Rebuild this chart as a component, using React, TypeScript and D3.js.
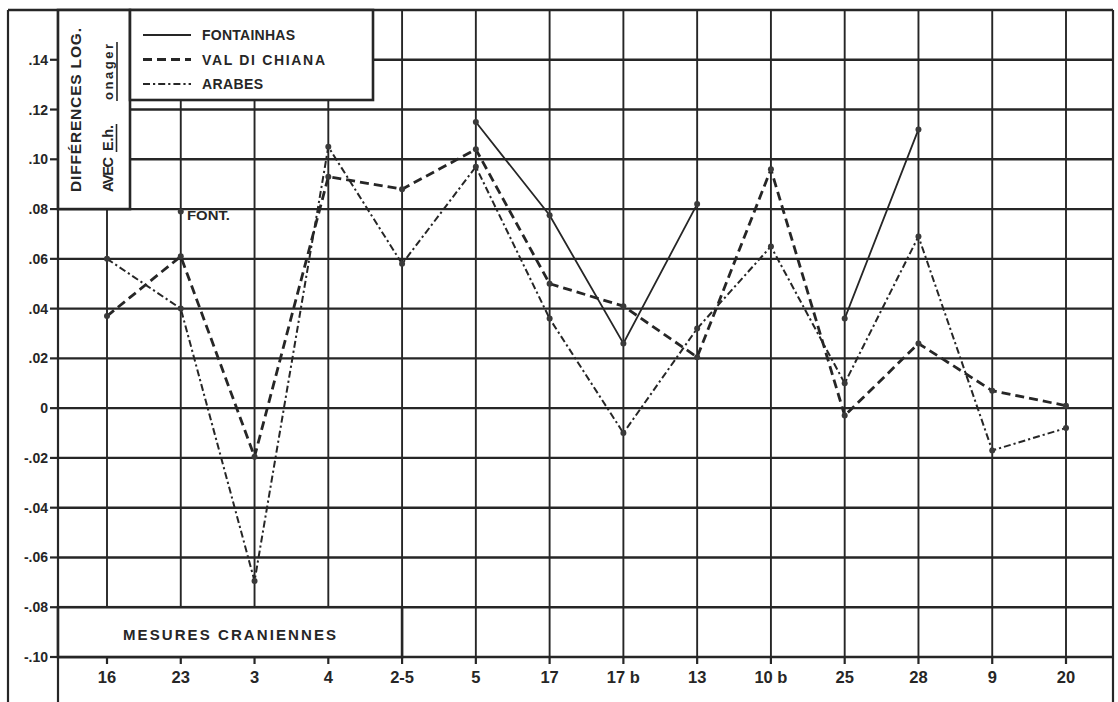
import React from "react";
import * as d3 from "d3";

const categories = ["16", "23", "3", "4", "2-5", "5", "17", "17 b", "13", "10 b", "25", "28", "9", "20"];
const fontainhas: (number | null)[] = [null, 0.079, null, null, null, 0.115, 0.0775, 0.026, 0.082, null, 0.036, 0.112, null, null];
const valDiChiana: (number | null)[] = [0.037, 0.061, -0.0195, 0.093, 0.088, 0.104, 0.050, 0.041, 0.0205, 0.096, -0.003, 0.026, 0.007, 0.001];
const arabes: (number | null)[] = [0.060, 0.040, -0.0695, 0.105, 0.058, 0.097, 0.036, -0.010, 0.032, 0.065, 0.010, 0.069, -0.017, -0.008];
const yTickValues = [0.14, 0.12, 0.10, 0.08, 0.06, 0.04, 0.02, 0, -0.02, -0.04, -0.06, -0.08, -0.10];
const yTickLabels = [".14", ".12", ".10", ".08", ".06", ".04", ".02", "0", "-.02", "-.04", "-.06", "-.08", "-.10"];
const legendLabels = ["FONTAINHAS", "VAL  DI  CHIANA", "ARABES"];

const W = 1118;
const H = 702;
const INK = "#262626";
const FONT = "'Liberation Sans', Arial, Helvetica, sans-serif";

export default function App() {
  const x = d3.scalePoint<string>().domain(categories).range([107, 1066]);
  const y = d3.scaleLinear().domain([-0.1, 0.16]).range([657, 10]);

  const frameL = 8;
  const frameR = 1113;
  const axisX = 58;
  const top = y(0.16);
  const bottom = y(-0.1);

  const line = d3
    .line<number | null>()
    .defined((d) => d !== null)
    .x((_, i) => x(categories[i]) as number)
    .y((d) => y(d as number));

  const series = [
    { name: legendLabels[0], values: fontainhas, dash: "none", width: 1.8 },
    { name: legendLabels[1], values: valDiChiana, dash: "9,5", width: 2.8 },
    { name: legendLabels[2], values: arabes, dash: "7,3,2.2,3", width: 2 },
  ];

  const titleBox = { x0: axisX, y0: top, x1: 130, y1: y(0.08) };
  const legendBox = { x0: 130, y0: top, x1: 373, y1: 100 };
  const mesBox = { x0: axisX, y0: y(-0.08), x1: x("2-5") as number, y1: bottom };

  return (
    <svg
      width={W}
      height={H}
      viewBox={`0 0 ${W} ${H}`}
      style={{ position: "absolute", left: 0, top: 0, background: "#fff" }}
      fontFamily={FONT}
    >
      <rect x={0} y={0} width={W} height={H} fill="#fff" />

      {yTickValues.map((v) => (
        <line key={"h" + v} x1={axisX} x2={frameR} y1={y(v)} y2={y(v)} stroke={INK} strokeWidth={2.4} />
      ))}
      {categories.map((c) => (
        <line key={"v" + c} x1={x(c)} x2={x(c)} y1={top} y2={bottom} stroke={INK} strokeWidth={1.9} />
      ))}
      {categories.map((c) => (
        <line key={"xt" + c} x1={x(c)} x2={x(c)} y1={bottom} y2={bottom + 7} stroke={INK} strokeWidth={2.2} />
      ))}
      {yTickValues.map((v) => (
        <line key={"yt" + v} x1={axisX - 8} x2={axisX} y1={y(v)} y2={y(v)} stroke={INK} strokeWidth={2.2} />
      ))}

      <line x1={frameL} x2={frameR} y1={top} y2={top} stroke={INK} strokeWidth={2.6} />
      <line x1={frameL} x2={frameL} y1={top} y2={H} stroke={INK} strokeWidth={2.2} />
      <line x1={axisX} x2={axisX} y1={top} y2={H} stroke={INK} strokeWidth={2.2} />
      <line x1={frameR} x2={frameR} y1={top} y2={H} stroke={INK} strokeWidth={2.2} />

      {[titleBox, legendBox, mesBox].map((b, i) => (
        <rect
          key={"box" + i}
          x={b.x0}
          y={b.y0}
          width={b.x1 - b.x0}
          height={b.y1 - b.y0}
          fill="#fff"
          stroke={INK}
          strokeWidth={2.6}
        />
      ))}

      {series.map((s) => (
        <g key={s.name}>
          <path d={line(s.values) || ""} fill="none" stroke={INK} strokeWidth={s.width} strokeDasharray={s.dash} />
          {s.values.map((v, i) =>
            v === null ? null : <circle key={i} cx={x(categories[i])} cy={y(v)} r={3} fill="#3a3a3a" />
          )}
        </g>
      ))}

      <text x={187} y={220} fontSize={13} fontWeight="bold" fill={INK} textLength={43} lengthAdjust="spacingAndGlyphs">
        FONT.
      </text>

      {series.map((s, i) => {
        const ly = 35 + i * 24.5;
        return (
          <g key={"lg" + i}>
            <line x1={143} x2={191} y1={ly} y2={ly} stroke={INK} strokeWidth={s.width} strokeDasharray={s.dash} />
            <text
              x={202}
              y={ly + 5}
              fontSize={14}
              fontWeight="bold"
              fill={INK}
              textLength={[93, 123, 61][i]}
              lengthAdjust="spacing"
            >
              {s.name}
            </text>
          </g>
        );
      })}

      <text
        transform="translate(81,110) rotate(-90)"
        textAnchor="middle"
        fontSize={15.5}
        fontWeight="bold"
        fill={INK}
        textLength={164}
        lengthAdjust="spacing"
      >
        DIFFÉRENCES LOG.
      </text>
      <text transform="translate(113,192) rotate(-90)" fontSize={14.5} fontWeight="bold" fill={INK} textLength={35} lengthAdjust="spacing">
        AVEC
      </text>
      <text transform="translate(113,151) rotate(-90)" fontSize={14.5} fontWeight="bold" fill={INK} textLength={26} lengthAdjust="spacing">
        E.h.
      </text>
      <text transform="translate(113,100) rotate(-90)" fontSize={13} fontWeight="bold" fill={INK} textLength={56} lengthAdjust="spacing">
        onager
      </text>
      <line x1={116.5} x2={116.5} y1={152} y2={124} stroke={INK} strokeWidth={1.6} />
      <line x1={117} x2={117} y1={101} y2={42} stroke={INK} strokeWidth={1.6} />

      <text x={123} y={640} fontSize={15} fontWeight="bold" fill={INK} textLength={213} lengthAdjust="spacing">
        MESURES    CRANIENNES
      </text>

      {yTickValues.map((v, i) => (
        <text key={"yl" + v} x={48} y={y(v) + 5} textAnchor="end" fontSize={14} fontWeight="bold" fill={INK}>
          {yTickLabels[i]}
        </text>
      ))}
      {categories.map((c) => (
        <text key={"xl" + c} x={x(c)} y={683} textAnchor="middle" fontSize={16.5} fontWeight="bold" fill={INK}>
          {c}
        </text>
      ))}
    </svg>
  );
}
